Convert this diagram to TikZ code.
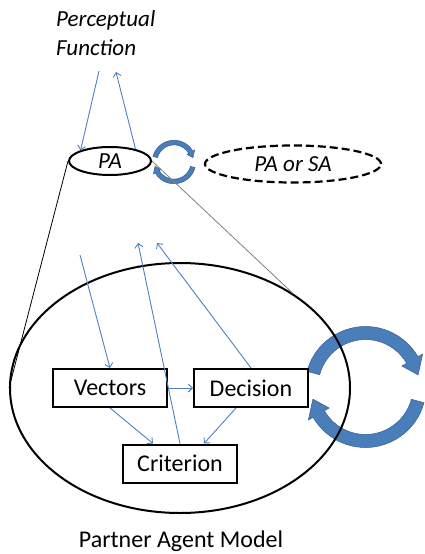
\documentclass[tikz,border=0pt]{standalone}
\usepackage{fontspec}
\setmainfont{Carlito}
\usetikzlibrary{arrows.meta,shapes.geometric}
\definecolor{ringfill}{RGB}{74,126,187}
\definecolor{ringedge}{RGB}{56,93,138}
\definecolor{flowblue}{RGB}{79,129,189}
\tikzset{
  circarrow/.pic={
    \path[fill=ringfill,draw=ringedge,line width=0.5pt]
      (195:47.5) -- (195:60.5) arc[start angle=195,end angle=330,radius=60.5]
      -- (330:66) -- (347:54) -- (330:42) -- (330:47.5)
      arc[start angle=330,end angle=195,radius=47.5] -- cycle;
    \path[fill=ringfill,draw=ringedge,line width=0.5pt]
      (15:47.5) -- (15:60.5) arc[start angle=15,end angle=150,radius=60.5]
      -- (150:66) -- (167:54) -- (150:42) -- (150:47.5)
      arc[start angle=150,end angle=15,radius=47.5] -- cycle;
  }
}
\begin{document}
\begin{tikzpicture}[x=1pt,y=-1pt,
  outline/.style={draw=black,line width=2pt},
  box/.style={outline,fill=white,minimum width=114pt,minimum height=38pt,inner sep=0pt,font=\fontsize{24}{28}\selectfont},
  flow/.style={draw=flowblue,line width=0.9pt,-{Straight Barb[length=4pt,width=8pt]}},
  lbl/.style={font=\itshape\fontsize{23}{27}\selectfont}
]
\useasboundingbox (0,0) rectangle (424,554);
\fill[white] (0,0) rectangle (424,554);

% circular arrows (below outlines)
\pic at (365.5,387) {circarrow};
\pic[scale=0.36] at (174,162) {circarrow};

% shapes
\node[ellipse,outline,minimum width=340pt,minimum height=250pt,inner sep=0pt] (model) at (180,388) {};
\node[ellipse,outline,minimum width=82pt,minimum height=28pt,inner sep=0pt,lbl] (pa) at (110,161) {PA};
\node[ellipse,draw=black,line width=2.2pt,dash pattern=on 8pt off 4pt,minimum width=176pt,minimum height=37pt,inner sep=0pt,lbl] (pasa) at (293,164) {PA or SA};

\node[box] (vec) at (110,388) {Vectors};
\node[box] (dec) at (251,388) {Decision};
\node[box] (crit) at (180,463.5) {Criterion};

\node[anchor=north west,align=left,inner sep=0pt,font=\itshape\fontsize{23}{29}\selectfont] (pf) at (56,10) {Perceptual\\Function};
\node[anchor=base,font=\fontsize{24}{28}\selectfont] (title) at (181,547) {Partner Agent Model};

% free ends
\coordinate (pfout) at (99,71);
\coordinate (pfin) at (116,72);
\coordinate (vin) at (80,255);
\coordinate (cout) at (138,243);
\coordinate (dout) at (157,243);

% zoom lines
\draw[black,line width=0.8pt] (pa.west) -- (model.west);
\draw[gray,line width=0.8pt] (pa.east) -- (model.40);

% flows
\draw[flow] (pfout) -- (pa.160);
\draw[flow] (pa.25) -- (pfin);
\draw[flow] (vin) -- (vec.north);
\draw[flow] (crit.north) -- (cout);
\draw[flow] (dec.north) -- (dout);
\draw[flow] (vec.east) -- (dec.west);
\draw[flow] (vec.south) -- ([xshift=-27pt]crit.north);
\draw[flow] ([xshift=-15pt]dec.south) -- ([xshift=24pt]crit.north);
\end{tikzpicture}
\end{document}
